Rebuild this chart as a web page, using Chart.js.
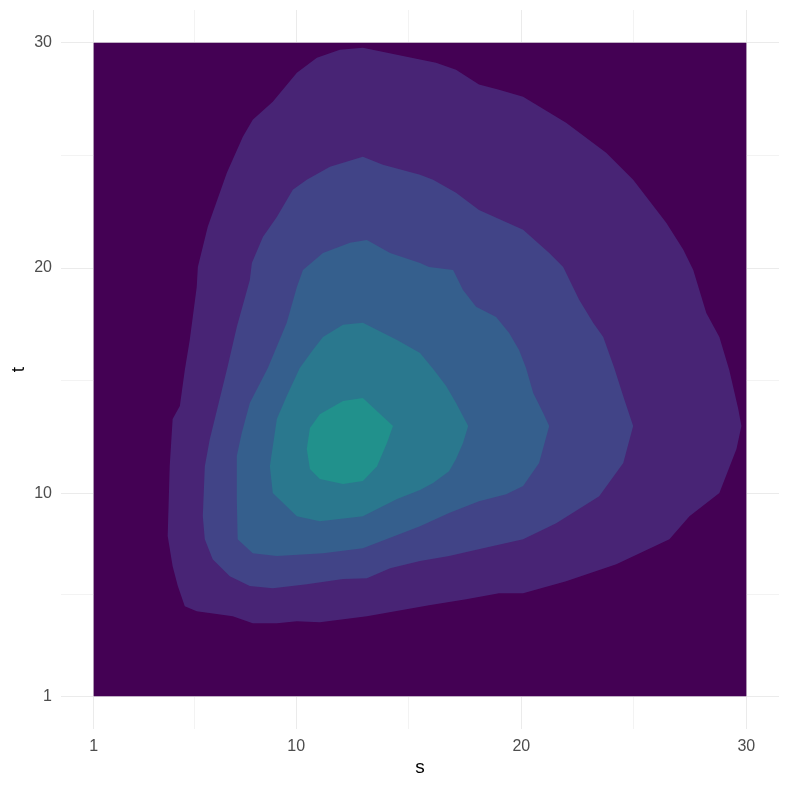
<!DOCTYPE html>
<html>
<head>
<meta charset="utf-8">
<script src="https://cdn.jsdelivr.net/npm/chart.js@4/dist/chart.umd.min.js"></script>
<style>
  html, body { margin: 0; padding: 0; background: #ffffff; }
</style>
</head>
<body>
<canvas id="chart" width="789" height="787"></canvas>
<script>
    // axis ticks
    var xTicks = [1, 10, 20, 30];
    var yTicks = [1, 10, 20, 30];
    var xMinor = [5.5, 15, 25];
    var yMinor = [5.5, 15, 25];

    // density band colours, lowest band first
    var levelColors = ['#440154', '#482475', '#414487', '#355F8D', '#2A788E', '#21918C'];

    // band outlines (s, t)
    var level1S = [1, 30, 30, 1];
    var level1T = [1, 1, 30, 30];

    var level2S = [12.96, 15.50, 16.21, 17.10, 18.12, 19.01, 20.08, 21.99, 23.77, 24.97, 26.44, 27.20, 27.64, 28.22, 28.80, 29.24, 29.64, 29.78, 29.56, 28.80, 27.47, 26.58, 24.22, 21.99, 20.08, 19.01, 17.55, 15.90, 13.14, 11.05, 10.03, 9.14, 8.07, 7.18, 5.58, 5.05, 4.74, 4.51, 4.29, 4.38, 4.51, 4.83, 5.05, 5.27, 5.58, 5.63, 6.07, 6.92, 7.63, 8.07, 8.96, 10.03, 10.92, 11.94];
    var level2T = [29.78, 29.25, 29.11, 28.80, 28.14, 27.91, 27.60, 26.45, 25.12, 23.92, 22.01, 20.81, 19.92, 18.01, 16.94, 15.48, 13.75, 12.99, 11.97, 10.02, 8.99, 7.97, 6.86, 6.11, 5.57, 5.57, 5.31, 5.04, 4.55, 4.29, 4.33, 4.24, 4.24, 4.55, 4.77, 5.00, 5.89, 6.77, 8.11, 11.21, 13.30, 13.88, 15.48, 16.81, 19.16, 20.05, 21.83, 24.23, 25.83, 26.58, 27.38, 28.67, 29.33, 29.69];

    var level3S = [12.96, 13.85, 15.50, 16.08, 17.10, 18.12, 20.08, 21.24, 21.86, 22.57, 23.19, 23.64, 24.13, 24.57, 24.97, 24.53, 23.46, 21.55, 20.08, 18.30, 16.79, 15.50, 14.17, 13.14, 12.08, 10.47, 8.96, 7.94, 7.05, 6.29, 5.94, 5.85, 5.94, 6.16, 6.60, 6.96, 7.36, 7.94, 8.03, 8.52, 9.14, 9.85, 10.47, 11.50];
    var level3T = [24.94, 24.58, 24.14, 23.92, 23.34, 22.58, 21.70, 20.67, 20.05, 18.59, 17.57, 16.94, 15.57, 14.19, 12.99, 11.35, 9.88, 8.68, 7.97, 7.57, 7.22, 7.00, 6.68, 6.24, 6.20, 5.97, 5.80, 5.89, 6.33, 7.08, 7.97, 8.99, 11.21, 12.41, 14.19, 15.66, 17.39, 19.47, 20.23, 21.38, 22.27, 23.47, 23.92, 24.49];

    var level4S = [13.14, 14.17, 15.50, 15.90, 16.97, 17.41, 17.99, 18.88, 19.46, 19.90, 20.21, 20.53, 20.97, 21.24, 20.79, 20.08, 19.33, 18.12, 16.79, 15.50, 12.96, 11.19, 9.14, 8.07, 7.40, 7.36, 7.36, 7.58, 7.94, 8.74, 9.58, 10.03, 10.30, 11.19, 12.39];
    var level4T = [21.25, 20.67, 20.23, 20.05, 19.92, 19.03, 18.28, 17.83, 17.12, 16.37, 15.57, 14.46, 13.57, 12.99, 11.35, 10.33, 9.97, 9.66, 9.13, 8.55, 7.57, 7.35, 7.22, 7.35, 7.97, 9.75, 11.66, 12.68, 14.01, 15.57, 17.57, 19.16, 19.92, 20.67, 21.12];

    var level5S = [12.96, 14.48, 15.50, 16.12, 16.66, 17.10, 17.64, 17.41, 17.10, 16.79, 16.08, 15.50, 14.48, 12.96, 11.05, 10.03, 8.96, 8.83, 9.14, 9.58, 10.16, 10.74, 11.19, 12.08];
    var level5T = [17.57, 16.81, 16.23, 15.48, 14.77, 14.01, 12.99, 12.24, 11.53, 10.99, 10.46, 10.15, 9.75, 8.99, 8.77, 8.99, 10.02, 11.21, 13.30, 14.32, 15.57, 16.37, 16.94, 17.48];

    var level6S = [12.96, 14.30, 14.03, 13.59, 12.96, 12.08, 11.05, 10.61, 10.47, 10.61, 11.05, 12.08];
    var level6T = [14.23, 12.99, 12.24, 11.21, 10.55, 10.42, 10.64, 11.08, 11.97, 12.90, 13.52, 14.10];

    var levels = [
        [level1S, level1T],
        [level2S, level2T],
        [level3S, level3T],
        [level4S, level4T],
        [level5S, level5T],
        [level6S, level6T]
    ];

    var FONT = "'Liberation Sans', Arial, sans-serif";
    var axisPad = 1.45; // ggplot style 5% expansion

    function toPoints(s, t) {
        var pts = s.map(function (v, i) { return {x: v, y: t[i]}; });
        pts.push({x: s[0], y: t[0]});
        return pts;
    }

    var datasets = levels.map(function (lv, i) {
        return {
            data: toPoints(lv[0], lv[1]),
            backgroundColor: levelColors[i],
            borderColor: levelColors[i],
            borderWidth: 0,
            pointRadius: 0,
            tension: 0,
            fill: 'shape',
            order: levels.length - i
        };
    });

    function gridColor(majors) {
        return function (ctx) {
            return majors.indexOf(ctx.tick.value) >= 0 ? '#EBEBEB' : '#F3F3F3';
        };
    }

    function setTicks(all) {
        return function (scale) {
            scale.ticks = all.slice().sort(function (a, b) { return a - b; })
                .map(function (v) { return {value: v}; });
        };
    }

    new Chart(document.getElementById('chart'), {
        type: 'line',
        data: {datasets: datasets},
        options: {
            responsive: false,
            animation: false,
            devicePixelRatio: 1,
            layout: {padding: {top: 10, right: 10, left: 0, bottom: 0}},
            plugins: {
                legend: {display: false},
                tooltip: {enabled: false}
            },
            scales: {
                x: {
                    type: 'linear',
                    min: 1 - axisPad,
                    max: 30 + axisPad,
                    afterBuildTicks: setTicks(xTicks.concat(xMinor)),
                    afterFit: function (scale) {
                        scale.height = 58;
                        scale.paddingLeft = 0;
                        scale.paddingRight = 0;
                    },
                    border: {display: false},
                    grid: {color: gridColor(xTicks), lineWidth: 1, drawTicks: false},
                    ticks: {
                        padding: 8,
                        color: '#4D4D4D',
                        font: {family: FONT, size: 16},
                        maxRotation: 0,
                        autoSkip: false,
                        callback: function (v) { return xTicks.indexOf(v) >= 0 ? String(v) : ''; }
                    },
                    title: {
                        display: true,
                        text: 's',
                        color: '#000000',
                        font: {family: FONT, size: 19},
                        padding: {top: 0, bottom: 8}
                    }
                },
                y: {
                    type: 'linear',
                    min: 1 - axisPad,
                    max: 30 + axisPad,
                    afterBuildTicks: setTicks(yTicks.concat(yMinor)),
                    afterFit: function (scale) {
                        scale.width = 61;
                        scale.paddingTop = 0;
                        scale.paddingBottom = 0;
                    },
                    border: {display: false},
                    grid: {color: gridColor(yTicks), lineWidth: 1, drawTicks: false},
                    ticks: {
                        padding: 9,
                        color: '#4D4D4D',
                        font: {family: FONT, size: 16},
                        autoSkip: false,
                        callback: function (v) { return yTicks.indexOf(v) >= 0 ? String(v) : ''; }
                    },
                    title: {
                        display: true,
                        text: 't',
                        color: '#000000',
                        font: {family: FONT, size: 19},
                        padding: {top: 7, bottom: 0}
                    }
                }
            }
        }
    });
</script>
</body>
</html>
